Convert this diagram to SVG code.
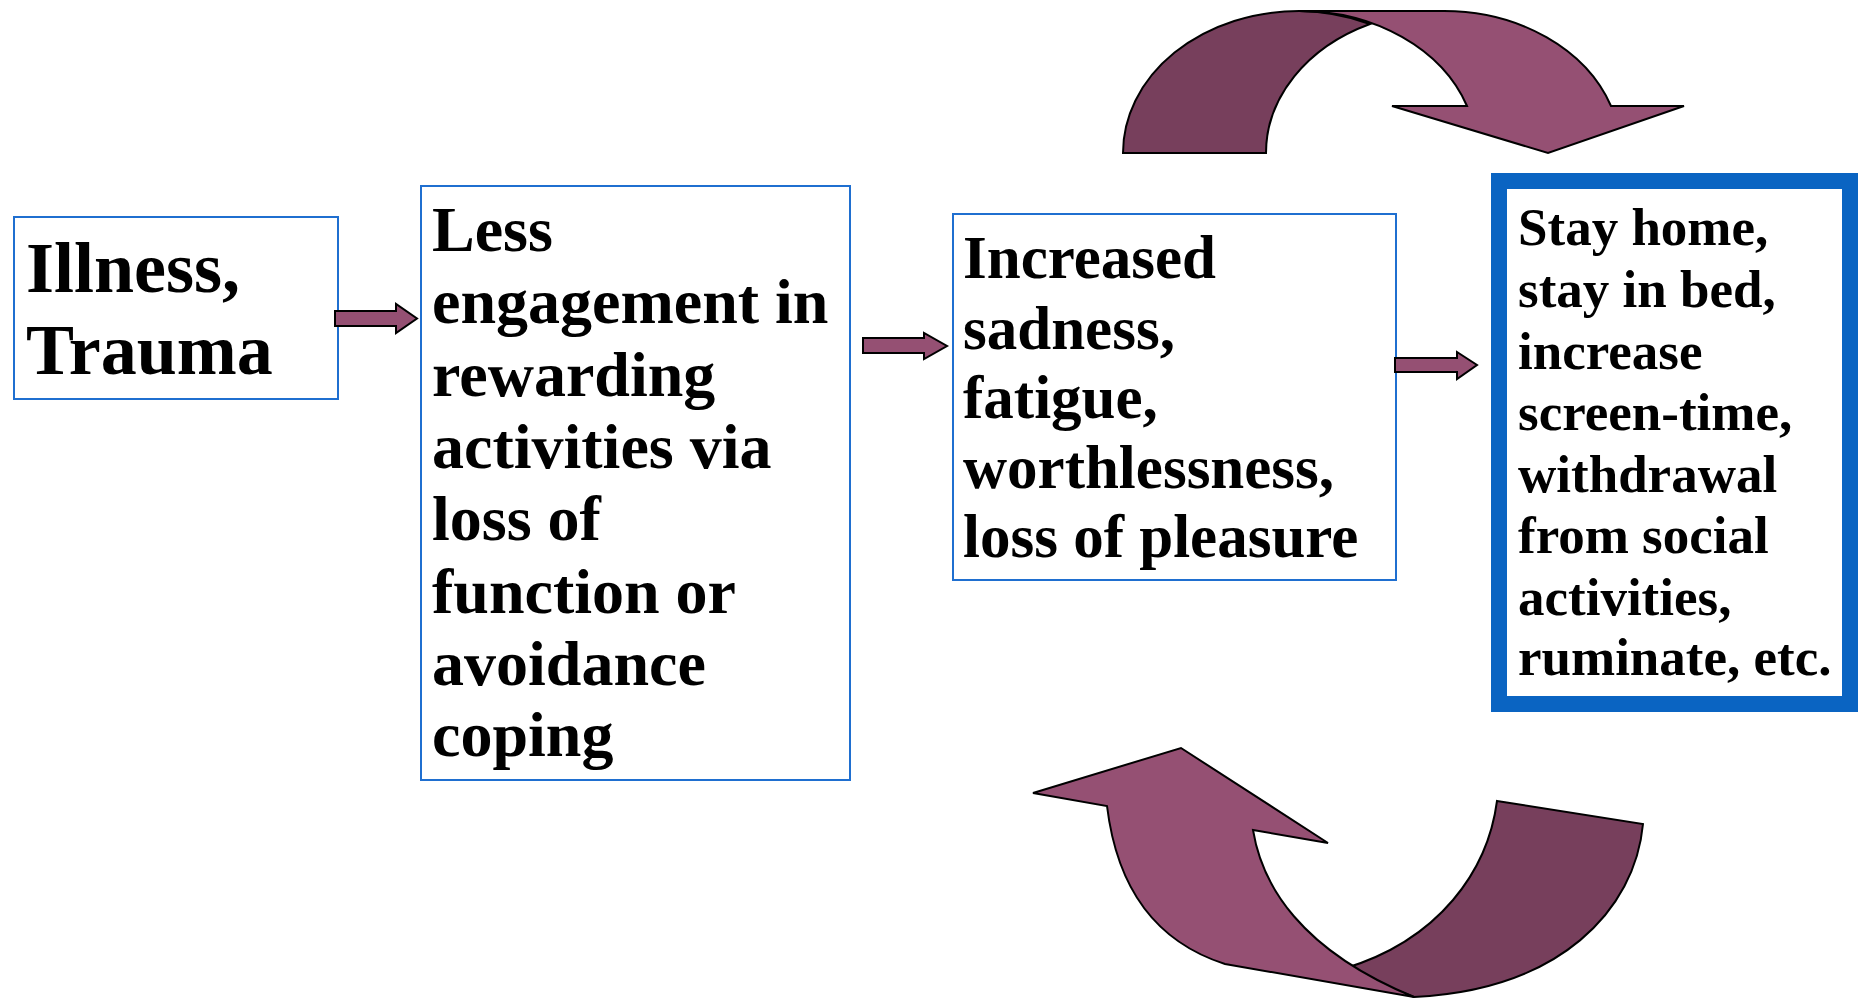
<svg xmlns="http://www.w3.org/2000/svg" width="1858" height="998" viewBox="0 0 1858 998">
<style>
.box{fill:#ffffff;stroke:#1f6fd0;stroke-width:2}
.box4{fill:#ffffff;stroke:#0a64c2;stroke-width:16}
.t{font-family:"Liberation Serif","Times New Roman",serif;font-weight:bold;fill:#000}
.arr{fill:#955073;stroke:#000;stroke-width:2;stroke-linejoin:miter}
.light{fill:#955073;stroke:#000;stroke-width:2}
.dark{fill:#773f5c;stroke:#000;stroke-width:2}
</style>
<rect width="1858" height="998" fill="#ffffff"/>
<g id="node-illness">
<rect class="box" x="14" y="217" width="324" height="182"/>
<text class="t" font-size="72"><tspan x="26" y="292">Illness,</tspan><tspan x="26" y="374">Trauma</tspan></text>
</g>
<g id="node-engagement">
<rect class="box" x="421" y="186" width="429" height="594"/>
<text class="t" font-size="64"><tspan x="432" y="251">Less</tspan><tspan x="432" y="323">engagement in</tspan><tspan x="432" y="396">rewarding</tspan><tspan x="432" y="468">activities via</tspan><tspan x="432" y="540">loss of</tspan><tspan x="432" y="613">function or</tspan><tspan x="432" y="685">avoidance</tspan><tspan x="432" y="756">coping</tspan></text>
</g>
<g id="node-sadness">
<rect class="box" x="953" y="214" width="443" height="366"/>
<text class="t" font-size="61"><tspan x="963" y="278">Increased</tspan><tspan x="963" y="349">sadness,</tspan><tspan x="963" y="418">fatigue,</tspan><tspan x="963" y="488">worthlessness,</tspan><tspan x="963" y="557">loss of pleasure</tspan></text>
</g>
<g id="node-stayhome">
<rect class="box4" x="1499" y="181" width="351" height="523"/>
<text class="t" font-size="53"><tspan x="1518" y="245">Stay home,</tspan><tspan x="1518" y="307">stay in bed,</tspan><tspan x="1518" y="369">increase</tspan><tspan x="1518" y="430">screen-time,</tspan><tspan x="1518" y="492">withdrawal</tspan><tspan x="1518" y="553">from social</tspan><tspan x="1518" y="615">activities,</tspan><tspan x="1518" y="675">ruminate, etc.</tspan></text>
</g>
<g id="connectors">
<path class="arr" d="M335,311 L396,311 L396,304 L417,318.5 L396,333 L396,326 L335,326 Z"/>
<path class="arr" d="M863,338 L924,338 L924,333 L947,346 L924,359 L924,353 L863,353 Z"/>
<path class="arr" d="M1395,358 L1457,358 L1457,352 L1477,365 L1457,379 L1457,372 L1395,372 Z"/>
<g id="cycle-top">
<path class="dark" d="M1123,153 A176,142 0 0 1 1299,11 A176,142 0 0 1 1370,24 A178,142 0 0 0 1266,153 Z"/>
<path class="light" d="M1299,11 L1444,11 A177,142 0 0 1 1611,106 L1684,106 L1548,153 L1392,106 L1467,106 A177,142 0 0 0 1299,11 Z"/>
</g>
<g id="cycle-bottom">
<path class="dark" d="M1497,801 L1643,824 C1635,910 1560,990 1414,997 L1343,969 C1440,940 1488,870 1497,801 Z"/>
<path class="light" d="M1181,748 L1328,843 L1253,830 C1262,885 1300,950 1414,997 L1225,964 C1150,940 1116,880 1107,806 L1033,793 Z"/>
</g>
</g>
</svg>
